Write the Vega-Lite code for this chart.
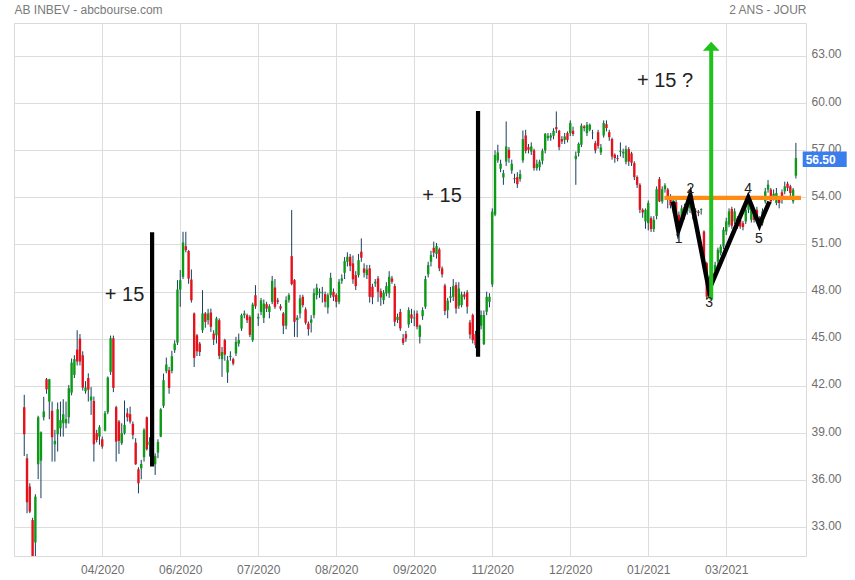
{
"$schema":"https://vega.github.io/schema/vega-lite/v6.json",
"width":792,"height":533,
"autosize":{"type":"none"},
"padding":{"left":14,"top":23,"right":49,"bottom":24},
"background":"white",
"config":{"view":{"stroke":"#d9d9d9"}},
"datasets":{
"c":[
{"i":0,"o":40.64,"h":41.43,"l":37.54,"c":38.92},
{"i":1,"o":37.39,"h":37.67,"l":33.89,"c":34.59},
{"i":2,"o":35.59,"h":35.8,"l":33.9,"c":34.0},
{"i":3,"o":33.46,"h":33.6,"l":30.5,"c":31.0},
{"i":4,"o":32.04,"h":35.1,"l":30.8,"c":34.95},
{"i":5,"o":37.01,"h":40.1,"l":36.06,"c":40.0},
{"i":6,"o":37.24,"h":39.1,"l":34.85,"c":39.05},
{"i":7,"o":40.0,"h":41.3,"l":39.8,"c":40.37},
{"i":8,"o":42.42,"h":42.5,"l":41.5,"c":41.78},
{"i":9,"o":41.0,"h":42.45,"l":39.88,"c":42.42},
{"i":10,"o":40.41,"h":41.0,"l":37.18,"c":38.73},
{"i":11,"o":38.28,"h":39.2,"l":37.18,"c":38.5},
{"i":12,"o":38.92,"h":40.94,"l":37.82,"c":40.51},
{"i":13,"o":39.3,"h":41.0,"l":38.77,"c":39.83},
{"i":14,"o":39.62,"h":41.15,"l":38.77,"c":40.2},
{"i":15,"o":39.62,"h":41.0,"l":39.3,"c":39.88},
{"i":16,"o":40.0,"h":42.06,"l":39.6,"c":41.85},
{"i":17,"o":41.57,"h":43.74,"l":41.4,"c":43.48},
{"i":18,"o":42.7,"h":43.95,"l":42.5,"c":43.7},
{"i":19,"o":44.31,"h":45.54,"l":43.3,"c":43.55},
{"i":20,"o":45.01,"h":45.3,"l":43.3,"c":43.55},
{"i":21,"o":43.95,"h":44.2,"l":41.7,"c":41.89},
{"i":22,"o":41.66,"h":42.3,"l":41.5,"c":41.9},
{"i":23,"o":42.5,"h":42.8,"l":41.0,"c":41.76},
{"i":24,"o":41.07,"h":41.93,"l":40.15,"c":41.32},
{"i":25,"o":41.04,"h":41.32,"l":37.18,"c":38.28},
{"i":26,"o":38.99,"h":39.2,"l":38.4,"c":38.56},
{"i":27,"o":38.77,"h":39.5,"l":38.25,"c":39.37},
{"i":28,"o":38.6,"h":38.77,"l":38.0,"c":38.14},
{"i":29,"o":39.15,"h":40.4,"l":39.1,"c":40.26},
{"i":30,"o":40.32,"h":42.6,"l":40.2,"c":42.53},
{"i":31,"o":42.89,"h":45.2,"l":42.7,"c":45.03},
{"i":32,"o":45.03,"h":45.2,"l":41.6,"c":41.87},
{"i":33,"o":40.64,"h":40.73,"l":37.18,"c":38.45},
{"i":34,"o":39.73,"h":39.83,"l":37.67,"c":38.5},
{"i":35,"o":38.35,"h":39.62,"l":38.24,"c":38.99},
{"i":36,"o":38.99,"h":41.07,"l":38.9,"c":39.52},
{"i":37,"o":40.26,"h":40.58,"l":39.73,"c":40.0},
{"i":38,"o":40.2,"h":40.68,"l":39.6,"c":39.73},
{"i":39,"o":39.58,"h":39.73,"l":38.6,"c":38.88},
{"i":40,"o":38.39,"h":38.67,"l":36.97,"c":37.01},
{"i":41,"o":36.69,"h":36.82,"l":35.16,"c":35.8},
{"i":42,"o":36.75,"h":37.29,"l":36.05,"c":37.03},
{"i":43,"o":37.46,"h":39.3,"l":37.18,"c":39.2},
{"i":44,"o":40.0,"h":40.05,"l":37.88,"c":37.97},
{"i":45,"o":38.24,"h":38.73,"l":37.5,"c":38.45},
{"i":46,"o":38.4,"h":38.6,"l":36.9,"c":37.2},
{"i":47,"o":37.01,"h":37.71,"l":36.33,"c":37.54},
{"i":48,"o":37.75,"h":38.6,"l":37.4,"c":38.43},
{"i":49,"o":38.77,"h":40.58,"l":38.73,"c":40.51},
{"i":50,"o":40.73,"h":42.78,"l":40.6,"c":42.36},
{"i":51,"o":42.93,"h":43.8,"l":42.8,"c":43.36},
{"i":52,"o":43.0,"h":43.21,"l":41.5,"c":41.87},
{"i":53,"o":42.95,"h":44.23,"l":42.8,"c":43.89},
{"i":54,"o":44.27,"h":44.9,"l":44.1,"c":44.69},
{"i":55,"o":44.76,"h":48.73,"l":44.6,"c":48.13},
{"i":56,"o":48.13,"h":49.37,"l":47.03,"c":48.73},
{"i":57,"o":48.94,"h":51.81,"l":48.8,"c":51.13},
{"i":58,"o":50.89,"h":51.81,"l":50.5,"c":50.64},
{"i":59,"o":50.58,"h":50.64,"l":48.5,"c":48.83},
{"i":60,"o":48.77,"h":49.41,"l":47.3,"c":47.45},
{"i":61,"o":46.61,"h":46.67,"l":43.2,"c":43.78},
{"i":62,"o":45.22,"h":45.3,"l":43.9,"c":44.2},
{"i":63,"o":44.69,"h":44.8,"l":43.9,"c":44.16},
{"i":64,"o":45.54,"h":48.09,"l":45.37,"c":46.61},
{"i":65,"o":46.61,"h":46.7,"l":45.7,"c":46.07},
{"i":66,"o":46.18,"h":46.9,"l":45.9,"c":46.61},
{"i":67,"o":46.67,"h":46.92,"l":45.44,"c":45.76},
{"i":68,"o":45.33,"h":45.54,"l":44.6,"c":44.95},
{"i":69,"o":45.22,"h":46.4,"l":44.7,"c":46.29},
{"i":70,"o":46.18,"h":46.3,"l":43.7,"c":43.91},
{"i":71,"o":43.7,"h":44.48,"l":42.57,"c":44.16},
{"i":72,"o":44.91,"h":45.0,"l":43.6,"c":43.99},
{"i":73,"o":42.85,"h":43.9,"l":42.19,"c":43.63},
{"i":74,"o":43.84,"h":44.2,"l":43.6,"c":43.91},
{"i":75,"o":43.7,"h":43.8,"l":43.3,"c":43.42},
{"i":76,"o":44.06,"h":45.12,"l":43.9,"c":44.8},
{"i":77,"o":44.69,"h":45.33,"l":44.5,"c":44.91},
{"i":78,"o":45.65,"h":46.6,"l":45.5,"c":46.5},
{"i":79,"o":46.5,"h":46.8,"l":46.3,"c":46.61},
{"i":80,"o":46.5,"h":46.6,"l":46.0,"c":46.18},
{"i":81,"o":46.39,"h":46.5,"l":45.1,"c":45.25},
{"i":82,"o":44.91,"h":47.3,"l":44.8,"c":47.18},
{"i":83,"o":47.77,"h":48.41,"l":46.9,"c":47.07},
{"i":84,"o":46.29,"h":46.61,"l":45.82,"c":46.39},
{"i":85,"o":46.71,"h":47.6,"l":46.5,"c":47.45},
{"i":86,"o":46.33,"h":47.5,"l":46.0,"c":47.24},
{"i":87,"o":47.2,"h":47.35,"l":46.7,"c":46.92},
{"i":88,"o":46.71,"h":47.2,"l":46.3,"c":47.07},
{"i":89,"o":47.35,"h":49.0,"l":47.2,"c":48.69},
{"i":90,"o":48.26,"h":48.8,"l":46.9,"c":47.03},
{"i":91,"o":47.45,"h":47.6,"l":47.2,"c":47.35},
{"i":92,"o":47.07,"h":47.2,"l":46.8,"c":46.92},
{"i":93,"o":46.61,"h":46.7,"l":45.3,"c":45.83},
{"i":94,"o":45.83,"h":47.7,"l":45.6,"c":47.46},
{"i":95,"o":47.46,"h":47.9,"l":47.3,"c":47.78},
{"i":96,"o":50.26,"h":53.19,"l":48.4,"c":48.48},
{"i":97,"o":48.73,"h":48.8,"l":45.12,"c":46.08},
{"i":98,"o":46.19,"h":46.5,"l":45.1,"c":46.34},
{"i":99,"o":46.61,"h":47.8,"l":46.3,"c":47.57},
{"i":100,"o":47.67,"h":47.8,"l":47.0,"c":47.14},
{"i":101,"o":46.87,"h":47.0,"l":45.9,"c":46.02},
{"i":102,"o":45.97,"h":46.1,"l":45.2,"c":45.61},
{"i":103,"o":46.02,"h":46.5,"l":45.4,"c":46.23},
{"i":104,"o":46.5,"h":48.2,"l":46.3,"c":47.9},
{"i":105,"o":47.78,"h":48.5,"l":47.5,"c":48.25},
{"i":106,"o":47.9,"h":48.2,"l":47.6,"c":48.0},
{"i":107,"o":47.9,"h":48.3,"l":47.3,"c":47.95},
{"i":108,"o":47.84,"h":48.0,"l":47.0,"c":47.35},
{"i":109,"o":46.99,"h":47.9,"l":46.6,"c":47.78},
{"i":110,"o":47.78,"h":49.2,"l":47.6,"c":48.88},
{"i":111,"o":47.99,"h":48.2,"l":47.4,"c":47.67},
{"i":112,"o":47.78,"h":47.9,"l":47.0,"c":47.35},
{"i":113,"o":47.35,"h":48.8,"l":47.2,"c":48.63},
{"i":114,"o":48.69,"h":49.1,"l":48.5,"c":48.84},
{"i":115,"o":49.2,"h":50.2,"l":48.8,"c":49.94},
{"i":116,"o":49.9,"h":50.5,"l":49.6,"c":50.22},
{"i":117,"o":50.22,"h":50.4,"l":49.3,"c":49.63},
{"i":118,"o":49.8,"h":50.3,"l":48.5,"c":48.78},
{"i":119,"o":49.05,"h":49.3,"l":48.1,"c":48.35},
{"i":120,"o":49.05,"h":50.4,"l":48.9,"c":50.0},
{"i":121,"o":50.54,"h":51.39,"l":49.9,"c":50.16},
{"i":122,"o":49.48,"h":49.8,"l":48.9,"c":49.2},
{"i":123,"o":49.05,"h":49.7,"l":48.8,"c":49.41},
{"i":124,"o":49.48,"h":49.7,"l":47.3,"c":47.67},
{"i":125,"o":48.31,"h":48.5,"l":47.2,"c":47.63},
{"i":126,"o":48.52,"h":48.8,"l":48.3,"c":48.63},
{"i":127,"o":48.84,"h":49.0,"l":47.35,"c":47.99},
{"i":128,"o":48.03,"h":48.2,"l":47.1,"c":47.63},
{"i":129,"o":47.46,"h":48.1,"l":47.2,"c":47.93},
{"i":130,"o":47.89,"h":48.6,"l":47.7,"c":48.35},
{"i":131,"o":47.89,"h":49.3,"l":47.6,"c":48.95},
{"i":132,"o":48.84,"h":49.0,"l":48.5,"c":48.63},
{"i":133,"o":48.35,"h":48.5,"l":45.8,"c":46.08},
{"i":134,"o":46.19,"h":46.6,"l":46.0,"c":46.4},
{"i":135,"o":46.7,"h":46.9,"l":45.5,"c":45.66},
{"i":136,"o":45.02,"h":45.3,"l":44.6,"c":44.74},
{"i":137,"o":45.29,"h":45.5,"l":44.8,"c":45.02},
{"i":138,"o":45.91,"h":47.0,"l":45.7,"c":46.82},
{"i":139,"o":46.55,"h":46.9,"l":46.0,"c":46.29},
{"i":140,"o":46.3,"h":46.8,"l":45.8,"c":46.35},
{"i":141,"o":46.61,"h":46.8,"l":45.6,"c":45.76},
{"i":142,"o":45.12,"h":45.9,"l":44.7,"c":45.83},
{"i":143,"o":46.44,"h":47.0,"l":46.2,"c":46.82},
{"i":144,"o":47.04,"h":49.0,"l":46.9,"c":48.8},
{"i":145,"o":49.1,"h":49.9,"l":48.9,"c":49.69},
{"i":146,"o":49.9,"h":50.6,"l":49.6,"c":50.33},
{"i":147,"o":50.79,"h":51.18,"l":50.2,"c":50.48},
{"i":148,"o":50.39,"h":51.1,"l":50.1,"c":50.9},
{"i":149,"o":50.69,"h":50.8,"l":49.3,"c":49.48},
{"i":150,"o":49.48,"h":49.6,"l":48.9,"c":49.1},
{"i":151,"o":48.39,"h":48.5,"l":46.5,"c":46.76},
{"i":152,"o":46.82,"h":47.6,"l":46.3,"c":47.42},
{"i":153,"o":47.6,"h":48.3,"l":47.3,"c":47.7},
{"i":154,"o":47.67,"h":48.8,"l":47.4,"c":48.35},
{"i":155,"o":48.42,"h":48.6,"l":46.6,"c":46.93},
{"i":156,"o":47.1,"h":48.6,"l":46.9,"c":48.2},
{"i":157,"o":47.14,"h":48.0,"l":47.0,"c":47.82},
{"i":158,"o":47.82,"h":48.0,"l":47.5,"c":47.67},
{"i":159,"o":47.95,"h":48.1,"l":46.6,"c":47.04},
{"i":160,"o":46.04,"h":46.2,"l":45.0,"c":45.27},
{"i":161,"o":46.51,"h":46.6,"l":44.7,"c":44.91},
{"i":162,"o":45.29,"h":45.5,"l":44.4,"c":44.59},
{"i":163,"o":44.6,"h":45.4,"l":44.3,"c":45.1},
{"i":164,"o":45.83,"h":46.8,"l":45.6,"c":46.51},
{"i":165,"o":44.66,"h":46.8,"l":44.6,"c":46.51},
{"i":166,"o":46.72,"h":48.0,"l":46.5,"c":47.67},
{"i":167,"o":47.35,"h":47.9,"l":47.0,"c":47.67},
{"i":168,"o":48.46,"h":53.3,"l":48.3,"c":53.09},
{"i":169,"o":52.9,"h":57.0,"l":52.8,"c":56.7},
{"i":170,"o":56.35,"h":57.35,"l":56.2,"c":56.86},
{"i":171,"o":55.82,"h":56.4,"l":55.6,"c":56.14},
{"i":172,"o":55.27,"h":55.75,"l":54.8,"c":55.54},
{"i":173,"o":56.28,"h":58.83,"l":56.0,"c":57.24},
{"i":174,"o":57.03,"h":57.2,"l":56.2,"c":56.5},
{"i":175,"o":55.71,"h":56.4,"l":55.5,"c":56.14},
{"i":176,"o":55.22,"h":55.5,"l":54.9,"c":55.16},
{"i":177,"o":55.29,"h":55.6,"l":54.6,"c":54.84},
{"i":178,"o":55.16,"h":55.75,"l":55.0,"c":55.48},
{"i":179,"o":56.35,"h":58.26,"l":56.2,"c":57.71},
{"i":180,"o":57.94,"h":58.3,"l":56.8,"c":56.96},
{"i":181,"o":57.2,"h":57.4,"l":56.8,"c":57.03},
{"i":182,"o":56.92,"h":57.5,"l":56.7,"c":57.24},
{"i":183,"o":56.99,"h":57.1,"l":55.7,"c":55.86},
{"i":184,"o":55.86,"h":56.4,"l":55.7,"c":56.14},
{"i":185,"o":55.92,"h":56.4,"l":55.7,"c":56.28},
{"i":186,"o":56.33,"h":57.1,"l":56.1,"c":56.96},
{"i":187,"o":56.99,"h":58.09,"l":56.8,"c":58.05},
{"i":188,"o":57.77,"h":58.1,"l":57.6,"c":57.92},
{"i":189,"o":57.81,"h":58.1,"l":57.6,"c":57.94},
{"i":190,"o":57.92,"h":58.4,"l":57.7,"c":58.24},
{"i":191,"o":58.47,"h":59.47,"l":58.1,"c":58.34},
{"i":192,"o":58.24,"h":58.3,"l":57.0,"c":57.2},
{"i":193,"o":57.71,"h":57.9,"l":57.4,"c":57.56},
{"i":194,"o":57.66,"h":58.1,"l":57.4,"c":57.88},
{"i":195,"o":58.09,"h":58.2,"l":57.5,"c":57.66},
{"i":196,"o":58.09,"h":58.9,"l":57.9,"c":58.73},
{"i":197,"o":58.24,"h":58.5,"l":57.9,"c":58.03},
{"i":198,"o":56.43,"h":56.92,"l":54.8,"c":56.65},
{"i":199,"o":56.82,"h":57.5,"l":56.6,"c":57.41},
{"i":200,"o":57.35,"h":58.7,"l":57.2,"c":58.56},
{"i":201,"o":58.51,"h":58.6,"l":58.2,"c":58.41},
{"i":202,"o":58.09,"h":58.8,"l":57.9,"c":58.62},
{"i":203,"o":58.3,"h":58.7,"l":58.2,"c":58.62},
{"i":204,"o":58.09,"h":58.3,"l":57.7,"c":58.12},
{"i":205,"o":57.45,"h":57.6,"l":56.8,"c":56.99},
{"i":206,"o":58.15,"h":58.3,"l":57.1,"c":57.28},
{"i":207,"o":56.86,"h":57.4,"l":56.7,"c":57.18},
{"i":208,"o":57.94,"h":58.9,"l":57.8,"c":58.73},
{"i":209,"o":58.66,"h":58.9,"l":58.2,"c":58.41},
{"i":210,"o":58.15,"h":58.3,"l":57.6,"c":57.83},
{"i":211,"o":57.71,"h":57.8,"l":56.4,"c":56.6},
{"i":212,"o":56.71,"h":56.8,"l":56.2,"c":56.5},
{"i":213,"o":56.5,"h":56.7,"l":56.3,"c":56.45},
{"i":214,"o":56.9,"h":57.5,"l":56.6,"c":56.96},
{"i":215,"o":56.8,"h":57.1,"l":56.5,"c":56.9},
{"i":216,"o":56.26,"h":57.3,"l":56.1,"c":57.07},
{"i":217,"o":57.07,"h":57.2,"l":56.0,"c":56.28},
{"i":218,"o":56.8,"h":56.9,"l":56.0,"c":56.2},
{"i":219,"o":56.18,"h":56.3,"l":55.1,"c":55.29},
{"i":220,"o":55.29,"h":55.4,"l":54.6,"c":54.8},
{"i":221,"o":54.8,"h":54.9,"l":53.0,"c":53.21},
{"i":222,"o":53.21,"h":53.3,"l":52.7,"c":53.04},
{"i":223,"o":52.47,"h":53.3,"l":52.0,"c":53.21},
{"i":224,"o":52.36,"h":53.8,"l":51.9,"c":53.64},
{"i":225,"o":52.68,"h":52.8,"l":51.8,"c":51.98},
{"i":226,"o":51.98,"h":52.8,"l":51.8,"c":52.57},
{"i":227,"o":52.82,"h":54.7,"l":52.6,"c":54.52},
{"i":228,"o":55.16,"h":55.3,"l":53.7,"c":53.74},
{"i":229,"o":53.74,"h":54.7,"l":53.6,"c":54.52},
{"i":230,"o":54.52,"h":54.9,"l":54.3,"c":54.76},
{"i":231,"o":54.5,"h":54.6,"l":53.3,"c":53.9},
{"i":232,"o":54.0,"h":54.2,"l":53.3,"c":53.5},
{"i":233,"o":53.3,"h":54.0,"l":53.0,"c":53.8},
{"i":234,"o":53.7,"h":53.9,"l":52.6,"c":52.9},
{"i":235,"o":52.9,"h":53.1,"l":51.9,"c":52.3},
{"i":236,"o":52.4,"h":53.5,"l":52.2,"c":53.3},
{"i":237,"o":53.4,"h":53.6,"l":52.6,"c":52.9},
{"i":238,"o":53.1,"h":53.9,"l":52.9,"c":53.4},
{"i":239,"o":53.3,"h":54.0,"l":53.0,"c":53.9},
{"i":240,"o":53.2,"h":53.3,"l":52.6,"c":52.9},
{"i":241,"o":53.05,"h":53.3,"l":52.8,"c":53.15},
{"i":242,"o":53.1,"h":53.2,"l":52.8,"c":53.0},
{"i":243,"o":53.2,"h":53.3,"l":52.9,"c":53.25},
{"i":244,"o":51.83,"h":51.9,"l":49.9,"c":50.02},
{"i":245,"o":49.81,"h":49.9,"l":47.5,"c":47.68},
{"i":246,"o":47.8,"h":49.0,"l":47.6,"c":48.8},
{"i":247,"o":49.21,"h":49.4,"l":48.6,"c":48.91},
{"i":248,"o":49.28,"h":49.9,"l":49.0,"c":49.7},
{"i":249,"o":49.91,"h":50.8,"l":49.7,"c":50.66},
{"i":250,"o":50.45,"h":51.0,"l":50.3,"c":50.87},
{"i":251,"o":50.87,"h":52.1,"l":50.7,"c":51.94},
{"i":252,"o":51.83,"h":52.7,"l":51.6,"c":52.47},
{"i":253,"o":52.26,"h":53.3,"l":52.1,"c":53.11},
{"i":254,"o":53.26,"h":53.4,"l":52.0,"c":52.19},
{"i":255,"o":52.47,"h":53.3,"l":52.3,"c":53.11},
{"i":256,"o":52.68,"h":52.8,"l":52.0,"c":52.15},
{"i":257,"o":52.57,"h":52.7,"l":52.0,"c":52.15},
{"i":258,"o":52.36,"h":52.5,"l":51.9,"c":52.11},
{"i":259,"o":52.47,"h":53.4,"l":52.3,"c":53.21},
{"i":260,"o":53.21,"h":53.9,"l":53.0,"c":53.64},
{"i":261,"o":52.57,"h":53.7,"l":52.4,"c":53.53},
{"i":262,"o":53.0,"h":53.2,"l":52.4,"c":52.57},
{"i":263,"o":53.21,"h":53.4,"l":52.6,"c":52.79},
{"i":264,"o":52.68,"h":52.8,"l":51.9,"c":52.36},
{"i":265,"o":52.36,"h":53.3,"l":52.2,"c":53.11},
{"i":266,"o":53.74,"h":54.6,"l":53.6,"c":54.38},
{"i":267,"o":54.49,"h":55.1,"l":54.3,"c":54.81},
{"i":268,"o":54.49,"h":54.6,"l":53.6,"c":53.74},
{"i":269,"o":54.06,"h":54.5,"l":53.8,"c":54.23},
{"i":270,"o":53.64,"h":54.6,"l":53.5,"c":54.28},
{"i":271,"o":53.85,"h":54.0,"l":53.3,"c":53.64},
{"i":272,"o":54.32,"h":54.5,"l":53.6,"c":53.85},
{"i":273,"o":54.38,"h":55.0,"l":54.2,"c":54.7},
{"i":274,"o":54.87,"h":55.0,"l":54.4,"c":54.6},
{"i":275,"o":54.7,"h":54.8,"l":54.0,"c":54.28},
{"i":276,"o":53.74,"h":54.6,"l":53.6,"c":54.49},
{"i":277,"o":55.38,"h":57.47,"l":55.2,"c":56.5}
],
"vlines":[{"i":45.9,"p1":51.78,"p2":36.86},{"i":162.9,"p1":59.5,"p2":43.86}],
"orange":[{"i":229.8,"i2":278.83,"p":53.97}],
"w":[{"k":1,"i":232.8,"p":53.73},{"k":2,"i":234.8,"p":51.88},{"k":3,"i":239.1,"p":54.15},{"k":4,"i":245.8,"p":48.1},{"k":5,"i":259.9,"p":54.0},{"k":6,"i":263.9,"p":52.24},{"k":7,"i":267.5,"p":53.73}],
"arrow":[{"i":246.6,"p1":47.5,"p2":63.4,"tip":63.62}],
"notes":[{"i":36.0,"p":47.76,"t":"+ 15"},{"i":150.0,"p":54.1,"t":"+ 15"},{"i":230.0,"p":61.4,"t":"+ 15 ?"}],
"pts":[{"i":234.9,"p":51.34,"t":"1"},{"i":239.1,"p":54.52,"t":"2"},{"i":245.9,"p":47.28,"t":"3"},{"i":259.9,"p":54.53,"t":"4"},{"i":263.7,"p":51.37,"t":"5"}],
"last":[{"p":56.5,"t":"56.50"}]
},
"layer":[
 {"data":{"name":"c"},
  "mark":{"type":"rule","color":"#173f5a","strokeWidth":1,"clip":true},
  "encoding":{
   "x":{"field":"i","type":"quantitative","scale":{"domain":[-1.88,278.83],"nice":false,"zero":false},
     "axis":{"values":[28,56,84,112,140,168,196,224,252],"labelExpr":"['04/2020','06/2020','07/2020','08/2020','09/2020','11/2020','12/2020','01/2021','03/2021'][round(datum.value/28)-1]","grid":true,"gridColor":"#dddddd","domain":false,"ticks":false,"labelPadding":8,"labelFont":"Liberation Sans","labelFontSize":12,"labelColor":"#6e6e6e","labelFlush":false,
       "title":"AB INBEV - abcbourse.com","titleFont":"Liberation Sans","titleFontSize":12,"titleFontWeight":"normal","titleColor":"#7a7a7a","titleAngle":0,"titleAlign":"left","titleBaseline":"alphabetic","titleX":0,"titleY":-543}},
   "y":{"field":"l","type":"quantitative","scale":{"domain":[31.17,65.1],"nice":false,"zero":false},
     "axis":{"orient":"right","values":[33,36,39,42,45,48,51,54,57,60,63],"format":".2f","grid":true,"gridColor":"#dddddd","domain":false,"ticks":false,"labelPadding":5,"labelFont":"Liberation Sans","labelFontSize":12,"labelColor":"#6e6e6e","labelOffset":-2,
       "title":"2 ANS - JOUR","titleFont":"Liberation Sans","titleFontSize":12,"titleFontWeight":"normal","titleColor":"#7a7a7a","titleAngle":0,"titleAlign":"right","titleBaseline":"alphabetic","titleX":0,"titleY":-10}},
   "y2":{"field":"h"}}},
 {"data":{"name":"c"},
  "mark":{"type":"bar","size":2.4,"clip":true},
  "encoding":{
   "x":{"field":"i","type":"quantitative"},
   "y":{"field":"o","type":"quantitative"},
   "y2":{"field":"c"},
   "color":{"condition":{"test":"datum.c >= datum.o","value":"#0c9a17"},"value":"#e4121b"}}},
 {"data":{"name":"orange"},
  "mark":{"type":"rule","color":"#ff8a14","strokeWidth":4.3},
  "encoding":{"x":{"field":"i","type":"quantitative"},"x2":{"field":"i2"},"y":{"field":"p","type":"quantitative"}}},
 {"data":{"name":"w"},
  "mark":{"type":"line","color":"#000000","strokeWidth":4.5},
  "encoding":{"x":{"field":"i","type":"quantitative"},"y":{"field":"p","type":"quantitative"},"order":{"field":"k"}}},
 {"data":{"name":"vlines"},
  "mark":{"type":"rule","color":"#000000","strokeWidth":4.2},
  "encoding":{"x":{"field":"i","type":"quantitative"},"y":{"field":"p1","type":"quantitative"},"y2":{"field":"p2"}}},
 {"data":{"name":"arrow"},
  "mark":{"type":"rule","color":"#22c21d","strokeWidth":4},
  "encoding":{"x":{"field":"i","type":"quantitative"},"y":{"field":"p1","type":"quantitative"},"y2":{"field":"p2"}}},
 {"data":{"name":"arrow"},
  "mark":{"type":"point","shape":"M-1,0.54L0,-0.54L1,0.54Z","size":279,"filled":true,"color":"#22c21d","opacity":1,"strokeWidth":0},
  "encoding":{"x":{"field":"i","type":"quantitative"},"y":{"field":"tip","type":"quantitative"}}},
 {"data":{"name":"notes"},
  "mark":{"type":"text","font":"Liberation Sans","fontSize":20,"color":"#222222","align":"center","baseline":"middle"},
  "encoding":{"x":{"field":"i","type":"quantitative"},"y":{"field":"p","type":"quantitative"},"text":{"field":"t"}}},
 {"data":{"name":"pts"},
  "mark":{"type":"text","font":"Liberation Sans","fontSize":14,"color":"#222222","align":"center","baseline":"middle"},
  "encoding":{"x":{"field":"i","type":"quantitative"},"y":{"field":"p","type":"quantitative"},"text":{"field":"t"}}},
 {"data":{"name":"last"},
  "mark":{"type":"tick","orient":"horizontal","size":44,"thickness":15.5,"color":"#3b7ded","opacity":1,"clip":false,"yOffset":1.2},
  "encoding":{"x":{"datum":287.34,"type":"quantitative"},"y":{"field":"p","type":"quantitative"}}},
 {"data":{"name":"last"},
  "mark":{"type":"text","font":"Liberation Sans","fontSize":12,"fontWeight":"bold","color":"#ffffff","align":"left","baseline":"middle","clip":false,"yOffset":1.5},
  "encoding":{"x":{"datum":280.5,"type":"quantitative"},"y":{"field":"p","type":"quantitative"},"text":{"field":"t"}}}
]
}
